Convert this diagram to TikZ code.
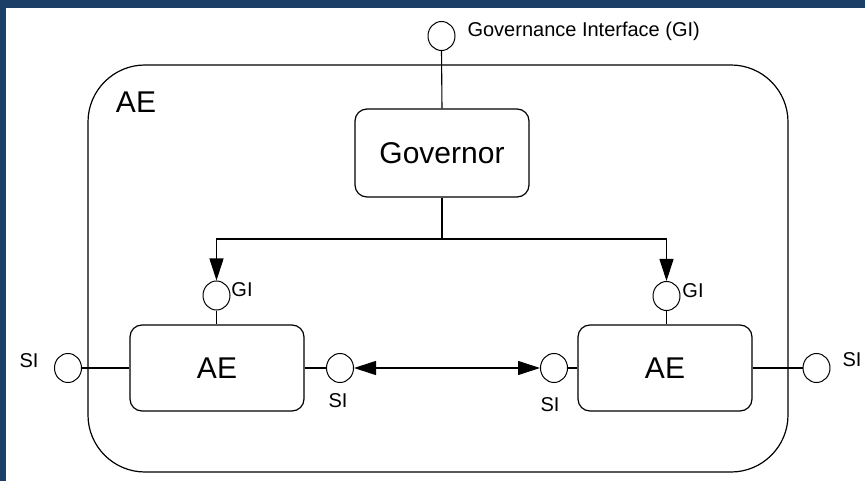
\documentclass[tikz,border=0pt]{standalone}
\usepackage{fontspec}
\setmainfont{Liberation Sans}
\usetikzlibrary{arrows.meta,shapes.geometric}
\definecolor{frameblue}{RGB}{27,63,102}
\begin{document}
\begin{tikzpicture}[x=1pt,y=-1pt,
  line width=1.1pt,
  iface/.style={draw,ellipse,minimum width=27pt,minimum height=29pt,inner sep=0pt,line width=1pt},
  box/.style={draw,rounded corners=12pt,line width=1.2pt},
  small/.style={font=\fontsize{20}{22}\selectfont,inner sep=0pt},
  big/.style={font=\fontsize{30}{34}\selectfont,inner sep=0pt},
  arr/.style={-{Triangle[length=22pt,width=14pt]}},
  darr/.style={{Triangle[length=22pt,width=14pt]}-{Triangle[length=22pt,width=14pt]}}]
\useasboundingbox (0,0) rectangle (865,481);
\fill[white] (0,0) rectangle (865,481);
\fill[frameblue] (0,0) rectangle (865,8);
\fill[frameblue] (0,0) rectangle (6,481);
% outer AE
\draw[line width=1.2pt,rounded corners=57pt] (88,65) rectangle (788,472);
\node[big] (aeLabel) at (136,102) {AE};
% governance interface
\node[iface] (gi) at (441.5,36) {};
\node[small,anchor=west] (giText) at (467,31) {Governance Interface (GI)};
% governor
\node[box,big,minimum width=174pt,minimum height=88pt] (gov) at (442,153) {Governor};
\draw (gi.south) -- (gov.north);
% inner AEs
\node[box,big,minimum width=174pt,minimum height=86pt] (aeL) at (217,368) {AE};
\node[box,big,minimum width=174pt,minimum height=86pt] (aeR) at (665,368) {AE};
% GI circles
\node[iface] (gil) at (216.5,295.5) {};
\node[iface] (gir) at (666.5,296) {};
\node[small] (gilT) at (242,290) {GI};
\node[small] (girT) at (693,291) {GI};
\coordinate (j) at (442,239);
\draw (gov.south) -- (j);
\draw[arr] (j) -| (gil.north);
\draw[arr] (j) -| (gir.north);
\draw (gil.south) -- (gil.south |- aeL.north);
\draw (gir.south) -- (gir.south |- aeR.north);
% SI circles
\node[iface] (siLo) at (68,368) {};
\node[iface] (siLi) at (340,368) {};
\node[iface] (siRi) at (554,368) {};
\node[iface] (siRo) at (816.5,368) {};
\node[small] (siLoT) at (29,361) {SI};
\node[small] (siLiT) at (338,401) {SI};
\node[small] (siRiT) at (550,405) {SI};
\node[small] (siRoT) at (852,360) {SI};
\draw (siLo.east) -- (aeL.west);
\draw (aeL.east) -- (siLi.west);
\draw[darr] (siLi.east) -- (siRi.west);
\draw (siRi.east) -- (aeR.west);
\draw (aeR.east) -- (siRo.west);
\end{tikzpicture}
\end{document}
